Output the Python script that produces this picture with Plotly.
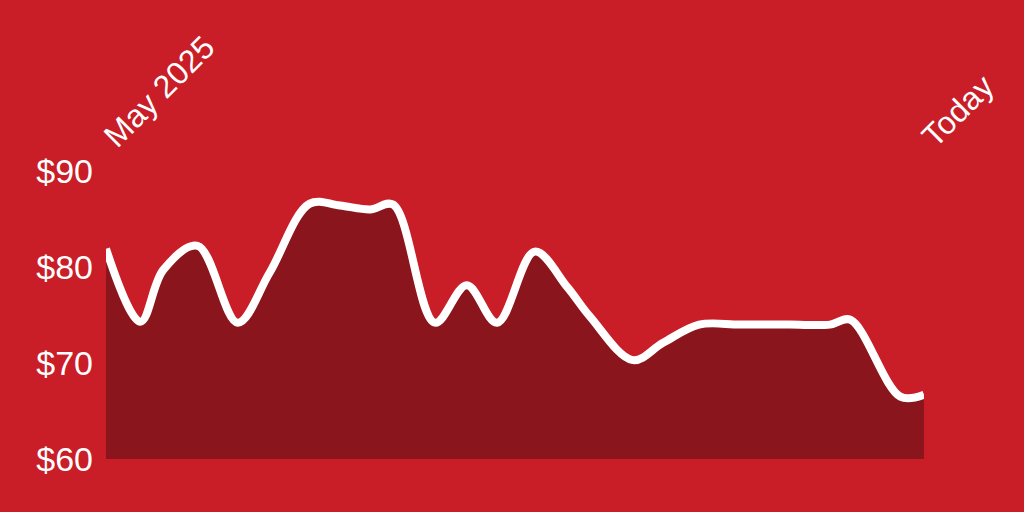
import plotly.graph_objects as go

# Day offsets since start (May 2025) and closing prices
days = [0, 4.2, 7.0, 11.2, 16.1, 20.0, 24.9, 28.6, 32.3, 35.1, 40.2, 44.1, 47.8,
        52.4, 56.4, 59.2, 64.4, 68.1, 72.5, 77.5, 83.6, 88.5, 91.0, 97.1, 100]
prices = [81.9, 74.3, 79.7, 82.2, 74.2, 79.4, 86.6, 86.4, 86.0, 86.5, 74.2, 78.1, 74.2,
          81.6, 77.9, 74.8, 70.3, 72.1, 74.0, 74.0, 74.0, 74.0, 74.5, 66.5, 66.7]

tick_days = [0, 100]
tick_text = ["May 2025", "Today"]
ytick_vals = [60, 70, 80, 90]
ytick_text = ["$60", "$70", "$80", "$90"]

BG = "#C91D27"
FILL = "#8B151C"

fig = go.Figure()
fig.add_trace(go.Scatter(
    x=days, y=prices, mode="lines",
    line=dict(color="white", width=8, shape="spline", smoothing=1.0),
    fill="tozeroy", fillcolor=FILL, hoverinfo="skip",
))

fig.update_layout(
    width=1024, height=512,
    paper_bgcolor=BG, plot_bgcolor=BG,
    margin=dict(l=106, r=100, t=171, b=53),
    showlegend=False,
    font=dict(family="Liberation Sans, Arial, sans-serif", color="white", size=32),
    xaxis=dict(
        range=[0, 100], side="top", tickmode="array", tickvals=tick_days,
        ticktext=tick_text, tickangle=-45, showgrid=False, zeroline=False,
        showline=False, ticks="", tickfont=dict(size=32, color="white"),
        ticklabelstandoff=10, fixedrange=True,
    ),
    yaxis=dict(
        range=[60, 90], tickmode="array", tickvals=ytick_vals, ticktext=ytick_text,
        showgrid=False, zeroline=False, showline=False, ticks="",
        tickfont=dict(size=34, color="white"), ticklabelstandoff=12, fixedrange=True,
    ),
)

fig.write_html(
    "out.html",
    config={"displayModeBar": False, "staticPlot": True},
    post_script="document.body.style.margin='0';document.body.style.overflow='hidden';",
)
